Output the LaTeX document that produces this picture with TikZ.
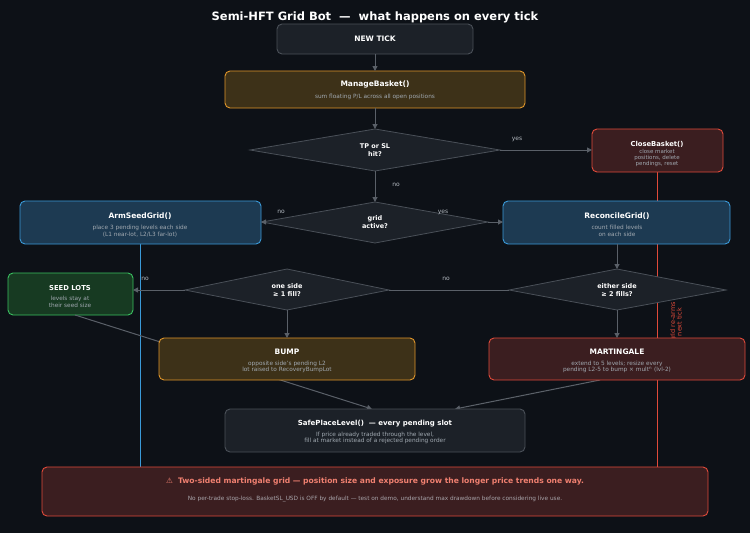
\documentclass[tikz,border=0pt]{standalone}
\usepackage{fontspec}
\setmainfont{DejaVu Sans}
\usetikzlibrary{shapes.geometric,arrows.meta}
\definecolor{bg}{HTML}{0D1117}
\definecolor{ln}{HTML}{5A6068}
\definecolor{gfill}{HTML}{1C2128}
\definecolor{gbord}{HTML}{4A5058}
\definecolor{ofill}{HTML}{3D3118}
\definecolor{obord}{HTML}{E0962A}
\definecolor{rfill}{HTML}{3B1E20}
\definecolor{rbord}{HTML}{E04A3A}
\definecolor{bfill}{HTML}{1D3A52}
\definecolor{bbord}{HTML}{3A9AD9}
\definecolor{sfill}{HTML}{173A22}
\definecolor{sbord}{HTML}{3AC060}
\definecolor{sub}{HTML}{A0A8B0}
\definecolor{warn}{HTML}{F08070}
\begin{document}
\begin{tikzpicture}[x=1pt,y=-1pt,
 box/.style={draw,rounded corners=5pt,line width=0.9pt,inner sep=0pt},
 ttl/.style={text=white,font=\bfseries\fontsize{7.5}{8.5}\selectfont,align=center},
 st/.style={text=sub,font=\fontsize{5.8}{6.6}\selectfont,align=center},
 dtl/.style={text=white,font=\bfseries\fontsize{6.5}{7.5}\selectfont,align=center},
 dia/.style={draw=gbord,fill=gfill,line width=0.8pt},
 arr/.style={draw=ln,line width=1pt,-{Triangle[length=5pt,width=5pt]}},
 lbl/.style={text=sub!80,font=\fontsize{6}{7}\selectfont}]
\fill[bg] (0,0) rectangle (750,533);
\useasboundingbox (0,0) rectangle (750,533);
\node[text=white,font=\bfseries\fontsize{11.5}{13}\selectfont] (title) at (375,17) {Semi-HFT Grid Bot \ — \ what happens on every tick};
% vertical side lines
\draw[bbord,line width=1pt] (140,244) -- (140,467);
\draw[rbord,line width=1pt] (657,172) -- (657,467);
\node[rotate=90,text=rbord,font=\fontsize{6.5}{6.5}\selectfont,align=center] (rearm) at (676,322) {grid re-arms\\next tick};
% boxes
\draw[box,draw=gbord,fill=gfill] (277,24) rectangle (473,54);
\node[ttl] (newtick) at (375,39) {NEW TICK};
\coordinate (nt) at (375,54);
\draw[box,draw=obord,fill=ofill] (225,71) rectangle (525,108);
\node[ttl] (mb) at (375,84) {ManageBasket()};
\node[st] (mbs) at (375,97) {sum floating P/L across all open positions};
\draw[dia] (250,150) -- (375,129) -- (500,150) -- (375,171) -- cycle;
\node[dtl] (d1) at (375,150) {TP or SL\\hit?};
\draw[box,draw=rbord,fill=rfill] (592,129) rectangle (723,172);
\node[ttl,font=\bfseries\fontsize{6.8}{7.5}\selectfont] (cb) at (657,144) {CloseBasket()};
\node[st,font=\fontsize{5.5}{6}\selectfont] (cbs) at (657,158) {close market\\positions, delete\\pendings, reset};
\draw[dia] (262,222) -- (375,202) -- (488,222) -- (375,243) -- cycle;
\node[dtl] (d2) at (375,222) {grid\\active?};
\draw[box,draw=bbord,fill=bfill] (20,201) rectangle (261,244);
\node[ttl] (asg) at (140,216) {ArmSeedGrid()};
\node[st] (asgs) at (140,231) {place 3 pending levels each side\\(L1 near-lot, L2/L3 far-lot)};
\draw[box,draw=bbord,fill=bfill] (503,201) rectangle (730,244);
\node[ttl] (rg) at (617,216) {ReconcileGrid()};
\node[st] (rgs) at (617,231) {count filled levels\\on each side};
\draw[dia] (185,290) -- (287,269) -- (389,290) -- (287,310) -- cycle;
\node[dtl] (d3) at (287,290) {one side\\≥ 1 fill?};
\draw[dia] (509,290) -- (617,269) -- (726,290) -- (617,310) -- cycle;
\node[dtl] (d4) at (617,290) {either side\\≥ 2 fills?};
\draw[box,draw=sbord,fill=sfill] (8,273) rectangle (133,315);
\node[ttl,font=\bfseries\fontsize{6.8}{7.5}\selectfont] (seed) at (70,288) {SEED LOTS};
\node[st] (seeds) at (70,302) {levels stay at\\their seed size};
% connectors behind boxes
\draw[arr] (75,315) -- (372,409);
\draw[arr] (600,380) -- (455,409);
\draw[box,draw=obord,fill=ofill] (159,338) rectangle (415,380);
\node[ttl] (bump) at (287,352) {BUMP};
\node[st] (bumps) at (287,367) {opposite side's pending L2\\lot raised to RecoveryBumpLot};
\draw[box,draw=rbord,fill=rfill] (489,338) rectangle (745,380);
\node[ttl] (mart) at (617,352) {MARTINGALE};
\node[st] (marts) at (617,367) {extend to 5 levels; resize every\\pending L2-5 to bump × mult\textsuperscript{n} (lvl-2)};
\draw[box,draw=gbord,fill=gfill] (225,409) rectangle (525,452);
\node[ttl,font=\bfseries\fontsize{7}{8}\selectfont] (spl) at (375,424) {SafePlaceLevel() \ — every pending slot};
\node[st] (spls) at (375,438) {If price already traded through the level,\\fill at market instead of a rejected pending order};
\draw[box,draw=rbord,fill=rfill] (42,467) rectangle (708,516);
\node[text=warn,font=\bfseries\fontsize{7.6}{8.5}\selectfont] (w1) at (375,481) {⚠ \ Two-sided martingale grid — position size and exposure grow the longer price trends one way.};
\node[text=sub!90!warn,font=\fontsize{5.8}{6.5}\selectfont] (w2) at (375,499) {No per-trade stop-loss. BasketSL\_USD is OFF by default — test on demo, understand max drawdown before considering live use.};
% arrows
\draw[arr] (nt) -- (375,71);
\draw[arr] (375,108) -- (375,129);
\draw[arr] (500,150) -- (592,150);
\node[lbl] (y1) at (517,139) {yes};
\draw[arr] (375,171) -- (375,202);
\node[lbl] (n1) at (396,185) {no};
\draw[arr] (262,222) -- (261,222);
\node[lbl] (n2) at (281,212) {no};
\draw[arr] (488,222) -- (503,222);
\node[lbl] (y2) at (443,212) {yes};
\draw[arr] (617,244) -- (617,269);
\draw[draw=ln,line width=1pt] (509,290) -- (389,290);
\node[lbl] (n3) at (446,279) {no};
\draw[arr] (185,290) -- (133,290);
\node[lbl] (n4) at (145,279) {no};
\draw[arr] (287,310) -- (287,338);
\draw[arr] (617,310) -- (617,338);
\end{tikzpicture}
\end{document}
